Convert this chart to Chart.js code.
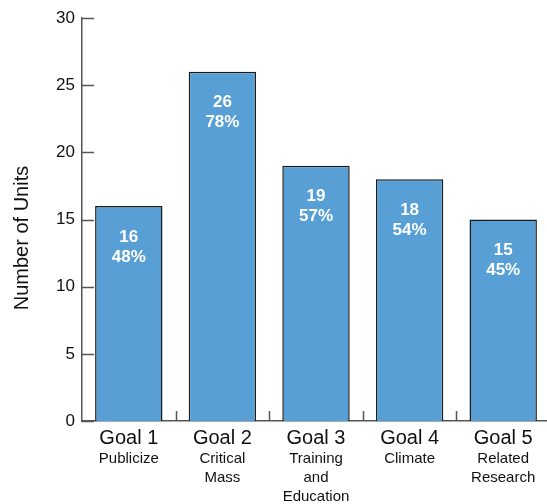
<!DOCTYPE html>
<html>
<head>
<meta charset="utf-8">
<script src="https://cdn.jsdelivr.net/npm/chart.js@4.4.1/dist/chart.umd.min.js"></script>
<style>
  html, body { margin: 0; padding: 0; background: #fff; overflow: hidden; }
  #wrap { width: 550px; height: 504px; position: relative; }
</style>
</head>
<body>
<div id="wrap"><canvas id="unitsChart"></canvas></div>
<script>
// Units per goal
var goals = ['Goal 1', 'Goal 2', 'Goal 3', 'Goal 4', 'Goal 5'];
var goalNames = [['Publicize'], ['Critical', 'Mass'], ['Training', 'and', 'Education'], ['Climate'], ['Related', 'Research']];
var units = [16, 26, 19, 18, 15];
var unitShares = ['48%', '78%', '57%', '54%', '45%'];
var yTicks = [0, 5, 10, 15, 20, 25, 30];

var FONT = '"Liberation Sans", Arial, sans-serif';
var AXIS = '#555';

// inward ticks, goal captions, in-bar labels and the rotated axis title
var decorations = {
    id: 'decorations',
    afterDraw: function (chart) {
        var c = chart.ctx;
        var x = chart.scales.x;
        var y = chart.scales.y;
        var area = chart.chartArea;
        c.save();

        c.strokeStyle = AXIS;
        c.lineWidth = 1.5;
        yTicks.forEach(function (v) {
            var py = Math.round(y.getPixelForValue(v)) + 0.5;
            c.beginPath();
            c.moveTo(area.left, py);
            c.lineTo(area.left + 12, py);
            c.stroke();
        });
        for (var i = 1; i < goals.length; i++) {
            var px = Math.round((x.getPixelForValue(i - 1) + x.getPixelForValue(i)) / 2) + 0.5;
            c.beginPath();
            c.moveTo(px, area.bottom);
            c.lineTo(px, area.bottom - 10);
            c.stroke();
        }

        c.textAlign = 'center';
        c.textBaseline = 'middle';
        goals.forEach(function (g, i) {
            var cx = x.getPixelForValue(i);
            c.fillStyle = '#111';
            c.font = '20px ' + FONT;
            c.fillText(g, cx, area.bottom + 17);
            c.font = '15px ' + FONT;
            goalNames[i].forEach(function (line, j) {
                c.fillText(line, cx, area.bottom + 38 + j * 19);
            });

            var top = y.getPixelForValue(units[i]);
            c.fillStyle = '#fff';
            c.font = 'bold 17px ' + FONT;
            c.fillText(String(units[i]), cx, top + 31);
            c.fillText(unitShares[i], cx, top + 51);
        });

        c.translate(22, 238);
        c.rotate(-Math.PI / 2);
        c.fillStyle = '#111';
        c.font = '20px ' + FONT;
        c.fillText('Number of Units', 0, 0);
        c.restore();
    }
};

var ctx = document.getElementById('unitsChart');
var unitsChart = new Chart(ctx, {
    type: 'bar',
    data: {
        labels: goals,
        datasets: [{
            label: 'Units',
            data: units,
            backgroundColor: '#579fd5',
            borderColor: '#1a1a1a',
            borderWidth: 1.5,
            categoryPercentage: 1,
            barPercentage: 0.72
        }]
    },
    options: {
        responsive: true,
        maintainAspectRatio: false,
        animation: false,
        layout: { padding: { top: 18, right: 0, left: 0, bottom: 0 } },
        plugins: {
            legend: { display: false },
            tooltip: { enabled: false }
        },
        scales: {
            x: {
                grid: { display: false, drawTicks: false },
                border: { display: true, color: AXIS, width: 1.5 },
                ticks: { display: false },
                afterFit: function (scale) { scale.height = 83; }
            },
            y: {
                min: 0,
                max: 30,
                afterBuildTicks: function (scale) {
                    scale.ticks = yTicks.map(function (v) { return { value: v }; });
                },
                grid: { display: false, drawTicks: false },
                border: { display: true, color: AXIS, width: 1.5 },
                ticks: {
                    color: '#111',
                    padding: 7,
                    font: { family: FONT, size: 17 }
                },
                afterFit: function (scale) { scale.width = 82; }
            }
        }
    },
    plugins: [decorations]
});
</script>
</body>
</html>
